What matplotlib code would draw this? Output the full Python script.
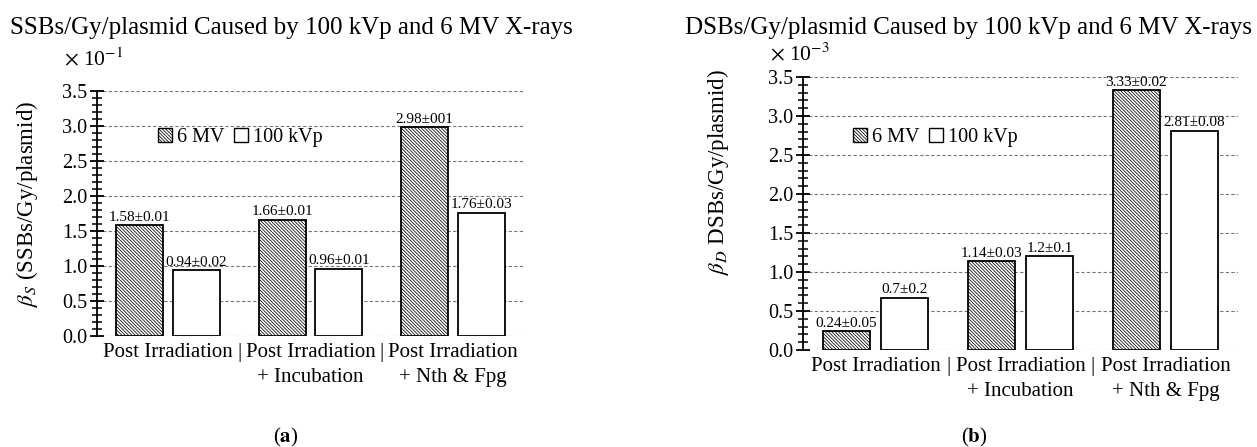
import numpy as np
import matplotlib
matplotlib.use("Agg")
import matplotlib.pyplot as plt
import matplotlib.transforms as mtransforms
from matplotlib.ticker import MultipleLocator, FormatStrFormatter
from matplotlib.patches import Patch

plt.rcParams['font.family'] = ['Liberation Serif', 'DejaVu Serif']
plt.rcParams['mathtext.fontset'] = 'stix'
plt.rcParams['hatch.linewidth'] = 0.55

# ---- data ----
categories = ["Post Irradiation", "Post Irradiation\n+ Incubation", "Post Irradiation\n+ Nth & Fpg"]
series = ["6 MV", "100 kVp"]

ssb_6mv = [1.58, 1.66, 2.98]
ssb_100kvp = [0.94, 0.96, 1.76]
ssb_6mv_labels = ["1.58±0.01", "1.66±0.01", "2.98±001"]
ssb_100kvp_labels = ["0.94±0.02", "0.96±0.01", "1.76±0.03"]

dsb_6mv = [0.24, 1.14, 3.33]
dsb_100kvp = [0.67, 1.2, 2.81]
dsb_6mv_labels = ["0.24±0.05", "1.14±0.03", "3.33±0.02"]
dsb_100kvp_labels = ["0.7±0.2", "1.2±0.1", "2.81±0.08"]

HATCH = '\\' * 10
W, H = 1257, 447
fig = plt.figure(figsize=(W / 100, H / 100), dpi=100)


def px_rect(left, top, right, bottom):
    return [left / W, 1 - bottom / H, (right - left) / W, (bottom - top) / H]


def draw_panel(ax, hatched, white, hl, wl, ylabel, label_xy, legend_xy, exp_text, exp_xy):
    x = np.arange(len(categories))
    off, bw = 0.2, 0.33
    b1 = ax.bar(x - off, hatched, bw, color='white', edgecolor='black',
                hatch=HATCH, linewidth=1.3, zorder=3)
    b2 = ax.bar(x + off, white, bw, color='white', edgecolor='black',
                linewidth=1.3, zorder=3)
    for bars, labels in ((b1, hl), (b2, wl)):
        for rect, lab in zip(bars, labels):
            ax.annotate(lab, (rect.get_x() + rect.get_width() / 2, rect.get_height()),
                        xytext=(0, 1), textcoords='offset points',
                        ha='center', va='bottom', fontsize=11)

    ax.set_xlim(-0.5, 2.5)
    ax.set_ylim(0, 3.5)
    ax.yaxis.set_major_locator(MultipleLocator(0.5))
    ax.yaxis.set_minor_locator(MultipleLocator(0.1))
    ax.yaxis.set_major_formatter(FormatStrFormatter('%.1f'))
    ax.tick_params(axis='y', which='major', direction='inout', length=10, width=1.3,
                   labelsize=14.5, pad=2)
    ax.tick_params(axis='y', which='minor', direction='inout', length=7, width=1.1)
    ax.set_xticks(x)
    ax.set_xticklabels(categories, fontsize=15, linespacing=1.45)
    ax.tick_params(axis='x', length=0, pad=5)
    sep = mtransforms.offset_copy(ax.get_xaxis_transform(), fig=fig, y=-5, units='points')
    for xs in (0.5, 1.5):
        ax.text(xs, 0, "|", transform=sep, ha='center', va='top', fontsize=15)

    for s in ('top', 'right', 'bottom'):
        ax.spines[s].set_visible(False)
    ax.spines['left'].set_linewidth(1.3)
    ax.grid(axis='y', which='major', linestyle=(0, (3, 2)), color='#777777',
            linewidth=0.8, zorder=0)

    ax.set_ylabel(ylabel, fontsize=16.5)
    ax.yaxis.set_label_coords(*label_xy)
    ax.text(exp_xy[0], exp_xy[1], exp_text, transform=ax.transAxes, ha='center',
            va='baseline', fontsize=15.5)

    handles = [Patch(facecolor='white', edgecolor='black', hatch=HATCH),
               Patch(facecolor='white', edgecolor='black')]
    ax.legend(handles, series, loc='center left', bbox_to_anchor=legend_xy,
              ncol=2, frameon=False, fontsize=14.5, handlelength=0.7,
              handleheight=0.7, handletextpad=0.25, columnspacing=0.45,
              borderaxespad=0, borderpad=0)


ax1 = fig.add_axes(px_rect(97, 91, 524, 336))
draw_panel(ax1, ssb_6mv, ssb_100kvp, ssb_6mv_labels, ssb_100kvp_labels,
           r"$\beta_S$ (SSBs/Gy/plasmid)", (-0.133, 0.54), (0.143, 0.81),
           r"$\times$ 10$^{-1}$", (-0.007, 1.106))

ax2 = fig.add_axes(px_rect(803, 77, 1238, 350))
draw_panel(ax2, dsb_6mv, dsb_100kvp, dsb_6mv_labels, dsb_100kvp_labels,
           r"$\beta_D$ DSBs/Gy/plasmid)", (-0.166, 0.652), (0.115, 0.78),
           r"$\times$ 10$^{-3}$", (-0.007, 1.062))

fig.text(10 / W, 1 - 28 / H, "SSBs/Gy/plasmid Caused by 100 kVp and 6 MV X-rays",
         ha='left', va='center', fontsize=18)
fig.text(685 / W, 1 - 28 / H, "DSBs/Gy/plasmid Caused by 100 kVp and 6 MV X-rays",
         ha='left', va='center', fontsize=18)

fig.text(286 / W, 1 - 437 / H, r"($\mathbf{a}$)", ha='center', va='center', fontsize=15)
fig.text(974 / W, 1 - 437 / H, r"($\mathbf{b}$)", ha='center', va='center', fontsize=15)

fig.savefig("out.png", dpi=100)
